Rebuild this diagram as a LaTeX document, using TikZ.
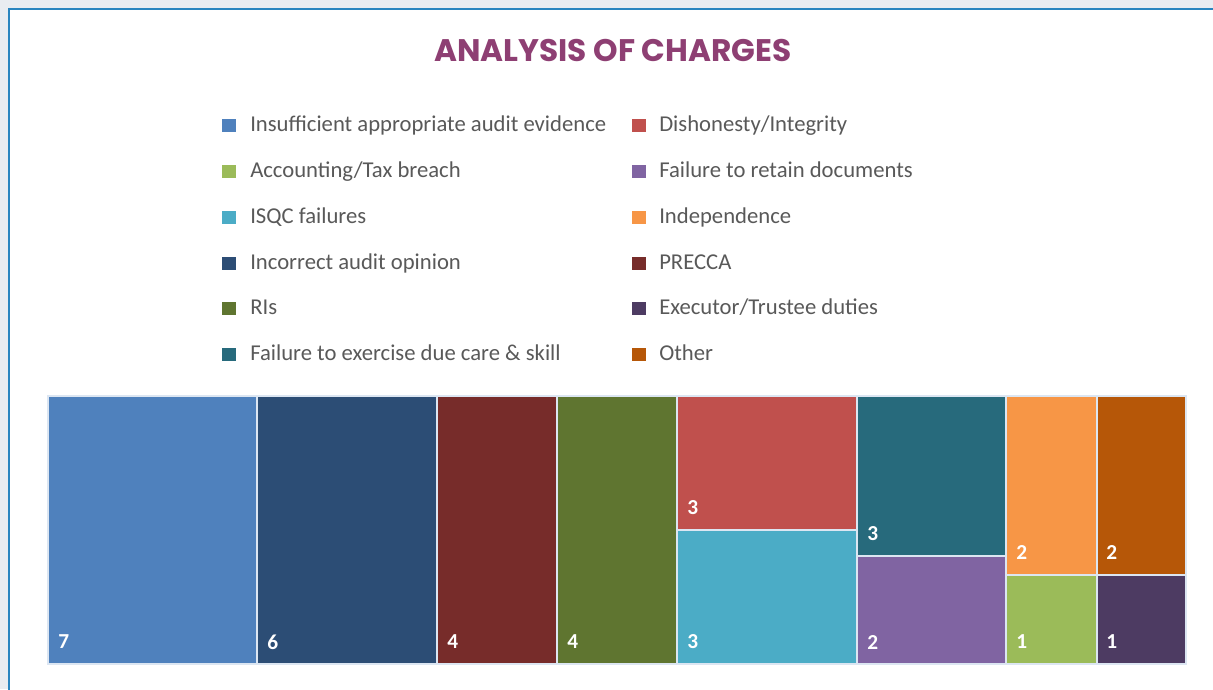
\documentclass[tikz,border=0pt]{standalone}
\usepackage{fontspec}
\setmainfont{Carlito}
\newfontfamily\titlefont{Poppins}
\definecolor{bgout}{HTML}{E9ECF1}
\definecolor{frame}{HTML}{2A84BF}
\definecolor{ttl}{HTML}{8E3F73}
\definecolor{lgtxt}{HTML}{595959}
\definecolor{cInsuf}{HTML}{4F81BD}
\definecolor{cDish}{HTML}{C0504D}
\definecolor{cAcc}{HTML}{9BBB59}
\definecolor{cRet}{HTML}{8064A2}
\definecolor{cIsqc}{HTML}{4BACC6}
\definecolor{cInd}{HTML}{F79646}
\definecolor{cIncor}{HTML}{2C4D75}
\definecolor{cPrec}{HTML}{772C2A}
\definecolor{cRis}{HTML}{5F7530}
\definecolor{cExec}{HTML}{4D3B62}
\definecolor{cCare}{HTML}{276A7C}
\definecolor{cOther}{HTML}{B65708}
\tikzset{
  cell/.style={draw=white!80!cInsuf, line width=0.8pt},
  lgbox/.style={minimum width=14*0.75pt, minimum height=13*0.75pt, inner sep=0pt},
  lgtext/.style={anchor=base west, inner sep=0pt, text=lgtxt, font=\fontsize{17}{19}\selectfont},
  num/.style={anchor=west, inner sep=0pt, text=white, font=\bfseries\fontsize{16}{18}\selectfont},
}
\begin{document}
\begin{tikzpicture}[x=0.75pt,y=-0.75pt]
\useasboundingbox (0,0) rectangle (1213,689);
\fill[bgout] (0,0) rectangle (1213,689);
\fill[white] (9,9) rectangle (1213,689);
\draw[frame, line width=2pt] (9,700) -- (9,9) -- (1220,9);
% title
\node[text=ttl, font=\titlefont\bfseries\fontsize{23.4}{26}\selectfont] (title) at (613,51) {ANALYSIS OF CHARGES};
% legend left column
\foreach \c/\t/\y/\n in {cInsuf/Insufficient appropriate audit evidence/125/l1,
  cAcc/Accounting\slash Tax breach/171/l2,
  cIsqc/ISQC failures/217/l3,
  cIncor/Incorrect audit opinion/263/l4,
  cRis/RIs/308/l5,
  cCare/Failure to exercise due care \& skill/354/l6}{
  \node[lgbox, fill=\c] (\n b) at (229,\y) {};
  \node[lgtext] (\n t) at (250,\y+6.5) {\t};
}
\foreach \c/\t/\y/\n in {cDish/Dishonesty\slash Integrity/125/r1,
  cRet/Failure to retain documents/171/r2,
  cInd/Independence/217/r3,
  cPrec/PRECCA/263/r4,
  cExec/Executor\slash Trustee duties/308/r5,
  cOther/Other/354/r6}{
  \node[lgbox, fill=\c] (\n b) at (639,\y) {};
  \node[lgtext] (\n t) at (659,\y+6.5) {\t};
}
% treemap
\draw[cell, fill=cInsuf] (48,396) rectangle (257,664);
\draw[cell, fill=cIncor] (257,396) rectangle (437,664);
\draw[cell, fill=cPrec] (437,396) rectangle (557,664);
\draw[cell, fill=cRis] (557,396) rectangle (677,664);
\draw[cell, fill=cDish] (677,396) rectangle (857,530);
\draw[cell, fill=cIsqc] (677,530) rectangle (857,664);
\draw[cell, fill=cCare] (857,396) rectangle (1006,556);
\draw[cell, fill=cRet] (857,556) rectangle (1006,664);
\draw[cell, fill=cInd] (1006,396) rectangle (1097,575);
\draw[cell, fill=cAcc] (1006,575) rectangle (1097,664);
\draw[cell, fill=cOther] (1097,396) rectangle (1186,575);
\draw[cell, fill=cExec] (1097,575) rectangle (1186,664);
% values
\node[num] (v1) at (58,642) {7};
\node[num] (v2) at (267,642) {6};
\node[num] (v3) at (447,642) {4};
\node[num] (v4) at (567,642) {4};
\node[num] (v5) at (687,508) {3};
\node[num] (v6) at (687,642) {3};
\node[num] (v7) at (867,534) {3};
\node[num] (v8) at (867,642) {2};
\node[num] (v9) at (1016,552) {2};
\node[num] (v10) at (1016,642) {1};
\node[num] (v11) at (1106,552) {2};
\node[num] (v12) at (1106,642) {1};
\end{tikzpicture}
\end{document}
